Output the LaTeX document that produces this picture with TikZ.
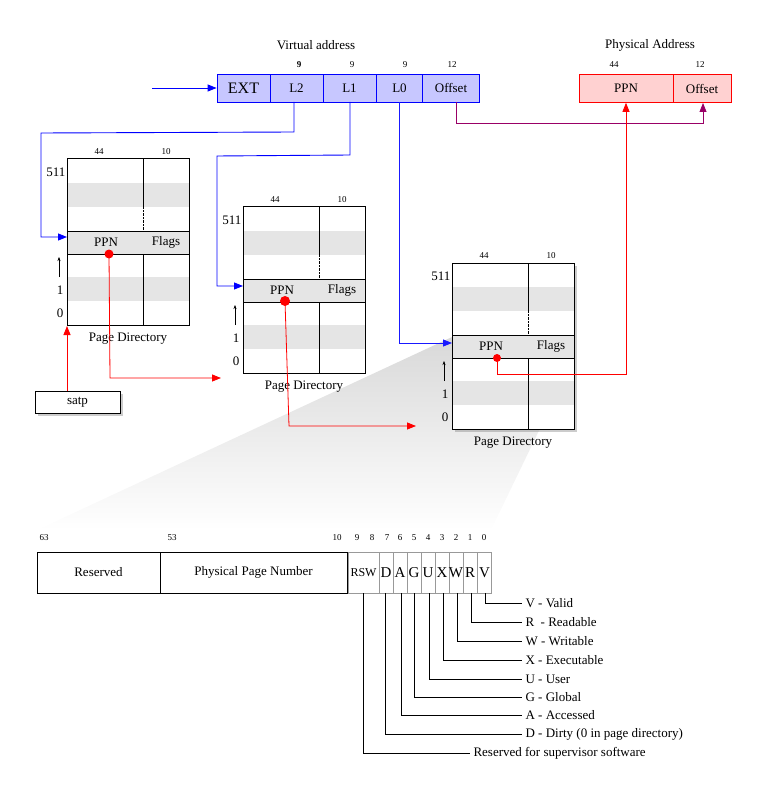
\documentclass[tikz,border=0pt]{standalone}
\usepackage{fontspec}
\setmainfont{Liberation Serif}
\usetikzlibrary{arrows.meta,shadows,calc}
\begin{document}
\begin{tikzpicture}[x=1pt,y=-1pt,
  lbl/.style={font=\fontsize{13}{15}\selectfont},
  sm/.style={font=\fontsize{9}{10}\selectfont},
  blu/.style={draw=blue,line width=0.9pt},
  rd/.style={draw=red,line width=0.8pt},
  tip/.style={-{Triangle[length=9pt,width=7pt]}},
  va/.style={draw=blue,fill=blue!22,line width=0.8pt,minimum height=28pt,inner sep=0pt,font=\fontsize{13}{15}\selectfont},
  pa/.style={draw=red,fill=red!18,line width=0.6pt,minimum height=28pt,inner sep=0pt,font=\fontsize{13}{15}\selectfont},
  bit/.style={draw=black!40,minimum height=41pt,inner sep=0pt,font=\fontsize{15}{17}\selectfont},
  leg/.style={font=\fontsize{13}{15}\selectfont,anchor=west}]
\useasboundingbox (0,0) rectangle (767,810);
% projection
\shade[top color=black!15,bottom color=white] (452,337) -- (574,358) -- (491,530) -- (37,530) -- cycle;
% page directories
\newcommand{\pdir}[3]{%
 \begin{scope}[shift={(#1,#2)}]
  \fill[white,#3] (0,0) rectangle (122,166);
  \fill[black!10] (0,24) rectangle (122,48);
  \fill[black!10] (0,72) rectangle (122,95);
  \fill[black!10] (0,118) rectangle (122,142);
  \draw[line width=0.7pt] (0,72) -- (122,72) (0,95) -- (122,95);
  \draw[line width=0.7pt] (76,0) -- (76,48) (76,95) -- (76,166);
  \draw[densely dotted] (76,48) -- (76,72);
  \draw[line width=1pt] (0,0) rectangle (122,166);
  \node[lbl] at (39,83) {PPN};
  \node[lbl] at (99,83) {Flags};
  \node[sm] at (32,-7) {44};
  \node[sm] at (99,-7) {10};
  \node[lbl,anchor=east] at (2,13) {511};
  \node[lbl] at (-7,131) {1};
  \node[lbl] at (-7,154) {0};
  \draw[-{Stealth[length=4pt]}] (-8,118) -- (-8,98);
  \node[lbl] at (61,180) {Page Directory};
 \end{scope}}
\pdir{67}{159}{}
\pdir{243}{207}{}
\pdir{452}{263}{drop shadow={shadow xshift=3pt,shadow yshift=-3pt,opacity=0.4}}
% virtual address
\node[lbl] (vat) at (316,45) {Virtual address};
\node[va,minimum width=53pt,font=\fontsize{16}{18}\selectfont] (ext) at (243.5,88) {EXT};
\node[va,minimum width=53pt] (l2) at (296.5,88) {L2};
\node[va,minimum width=53pt] (l1) at (349.5,88) {L1};
\node[va,minimum width=46pt] (l0) at (399.5,88) {L0};
\node[va,minimum width=57pt] (off) at (451,88) {Offset};
\node[sm,font=\bfseries\fontsize{9}{10}\selectfont] at (299,65) {9};
\node[sm] at (352,65) {9};
\node[sm] at (405,65) {9};
\node[sm] at (452,65) {12};
\coordinate (vin) at (152,88);
\draw[blu,tip] (vin) -- (ext.west);
% physical address
\node[lbl] at (650,45) {Physical Address};
\node[pa,minimum width=94pt] (pppn) at (626,88.5) {PPN};
\node[pa,minimum width=58pt] (poff) at (702,88.5) {Offset};
\node[sm] at (614,65) {44};
\node[sm] at (700,65) {12};
% blue connectors
\coordinate (a1) at (67,237);
\coordinate (a2) at (243,286);
\coordinate (a3) at (452,343);
\draw[blu,tip] (294,102) -- (294,132) -- (41,133) -- (41,237) -- (a1);
\draw[blu,tip] (350,102) -- (350,155) -- (217,156) -- (217,286) -- (a2);
\draw[blu,draw=blue!90,tip] (399,102) -- (399,343) -- (a3);
% offset connector
\draw[line width=0.8pt,draw=red!60!blue,tip] (456,102) -- (456,123) -- (703,123) -- (703,103);
% red connectors
\coordinate (d1) at (109,254);
\coordinate (d2) at (285,301);
\coordinate (d3) at (497,358);
\coordinate (t1) at (221,378);
\coordinate (t2) at (416,426);
\draw[rd,tip] (d1) -- (110,378) -- (t1);
\draw[rd,tip] (d2) -- (289,426) -- (t2);
\draw[rd,tip] (d3) -- (497,374) -- (626,374) -- (pppn.south);
\fill[red] (d1) circle (4.5pt) (d2) circle (5pt) (d3) circle (4pt);
% satp
\node[draw,line width=0.8pt,minimum width=85pt,minimum height=22pt,inner sep=0pt,lbl,fill=white,
  drop shadow={shadow xshift=3pt,shadow yshift=-3pt,opacity=0.4}] (satp) at (77.5,402) {satp};
\draw[rd,tip] (67,391) -- (67,326);
% bits row
\node[draw,minimum width=123pt,minimum height=41pt,inner sep=0pt,lbl] (res) at (98.5,572.5) {Reserved};
\node[draw,minimum width=187pt,minimum height=41pt,inner sep=0pt,lbl] (ppnf) at (253.5,572.5) {Physical Page Number};
\node[bit,minimum width=31pt,font=\fontsize{12}{14}\selectfont] (rsw) at (363.5,572.5) {RSW};
\foreach \n/\x in {D/386,A/400,G/414,U/428,X/442,W/456,R/470,V/484.5}
  \node[bit,minimum width=14pt] (b\n) at (\x,572.5) {\n};
\node[sm] at (44,538) {63};
\node[sm] at (172,538) {53};
\node[sm] at (337,538) {10};
\foreach \t/\x in {9/357,8/372,7/387,6/400,5/414,4/428,3/442,2/456,1/470,0/484}
  \node[sm] at (\x,538) {\t};
% legend
\foreach \n/\x/\y/\t in {V/485/603/V - Valid, R/471/622/R\ \ - Readable, W/457/641/W - Writable, X/443/660/X - Executable, U/429/679/U - User, G/414/697/G - Global, A/401/715/A - Accessed, D/385/734/D - Dirty (0 in page directory)}{
  \node[leg] (l\n) at (522,\y) {\t};
  \draw (\x,593) -- (\x,\y) -- (l\n.west);}
\node[leg] (lrsw) at (470,753) {Reserved for supervisor software};
\draw (363,593) -- (363,753) -- (lrsw.west);
\end{tikzpicture}
\end{document}
